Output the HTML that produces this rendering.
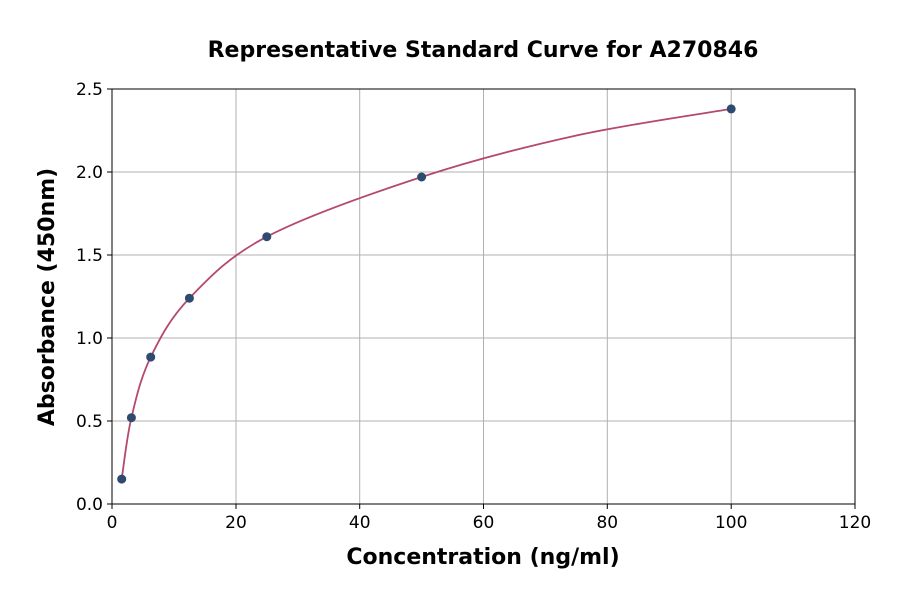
<!DOCTYPE html>
<html><head><meta charset="utf-8"><style>
body{margin:0;background:#fff}
svg{display:block;font-family:"DejaVu Sans","Liberation Sans",sans-serif}
</style></head><body>
<svg width="900" height="594" viewBox="0 0 900 594" xmlns="http://www.w3.org/2000/svg">
<rect width="900" height="594" fill="#fff"/>
<text x="483" y="57" text-anchor="middle" font-size="22" font-weight="bold">Representative Standard Curve for A270846</text>
<g stroke="#b0b0b0" stroke-width="1">
<line x1="236" y1="89" x2="236" y2="504"/><line x1="359.7" y1="89" x2="359.7" y2="504"/>
<line x1="483.5" y1="89" x2="483.5" y2="504"/><line x1="607.3" y1="89" x2="607.3" y2="504"/>
<line x1="731.2" y1="89" x2="731.2" y2="504"/>
<line x1="112" y1="421" x2="855" y2="421"/><line x1="112" y1="338" x2="855" y2="338"/>
<line x1="112" y1="255" x2="855" y2="255"/><line x1="112" y1="172" x2="855" y2="172"/>
</g>
<rect x="112" y="89" width="743" height="415" fill="none" stroke="#000" stroke-width="1"/>
<g stroke="#000"><line x1="112" y1="504" x2="112" y2="509"/><line x1="236" y1="504" x2="236" y2="509"/><line x1="359.7" y1="504" x2="359.7" y2="509"/><line x1="483.5" y1="504" x2="483.5" y2="509"/><line x1="607.3" y1="504" x2="607.3" y2="509"/><line x1="731.2" y1="504" x2="731.2" y2="509"/><line x1="855" y1="504" x2="855" y2="509"/>
<line x1="107" y1="504" x2="112" y2="504"/><line x1="107" y1="421" x2="112" y2="421"/><line x1="107" y1="338" x2="112" y2="338"/><line x1="107" y1="255" x2="112" y2="255"/><line x1="107" y1="172" x2="112" y2="172"/><line x1="107" y1="89" x2="112" y2="89"/></g>
<g font-size="17" text-anchor="middle">
<text x="112" y="528">0</text><text x="236" y="528">20</text><text x="359.7" y="528">40</text><text x="483.5" y="528">60</text><text x="607.3" y="528">80</text><text x="731.2" y="528">100</text><text x="855" y="528">120</text>
</g>
<g font-size="17" text-anchor="end">
<text x="103" y="510">0.0</text><text x="103" y="427">0.5</text><text x="103" y="344">1.0</text><text x="103" y="261">1.5</text><text x="103" y="178">2.0</text><text x="103" y="95">2.5</text>
</g>
<text x="483" y="564" text-anchor="middle" font-size="22" font-weight="bold">Concentration (ng/ml)</text>
<text transform="translate(54,297) rotate(-90)" text-anchor="middle" font-size="22" font-weight="bold">Absorbance (450nm)</text>
<path d="M121.7,479.1 C123.3,468.9 126.6,438 131.4,417.7 C136.2,397.4 141,377 150.7,357.1 C160.4,337.2 170.1,318.3 189.4,298.2 C208.8,278.1 228.1,256.9 266.8,236.7 C305.5,216.5 370,193.9 421.6,177 C473.2,160.1 524.8,146.9 576.4,135.5 C628,124.2 705.4,113.3 731.2,108.9" fill="none" stroke="#b5486e" stroke-width="1.8"/>
<g fill="#2e4a6e">
<circle cx="121.7" cy="479.1" r="4.5"/><circle cx="131.4" cy="417.7" r="4.5"/><circle cx="150.7" cy="357.1" r="4.5"/><circle cx="189.4" cy="298.2" r="4.5"/><circle cx="266.8" cy="236.7" r="4.5"/><circle cx="421.6" cy="177" r="4.5"/><circle cx="731.2" cy="108.9" r="4.5"/>
</g>
</svg>
</body></html>
